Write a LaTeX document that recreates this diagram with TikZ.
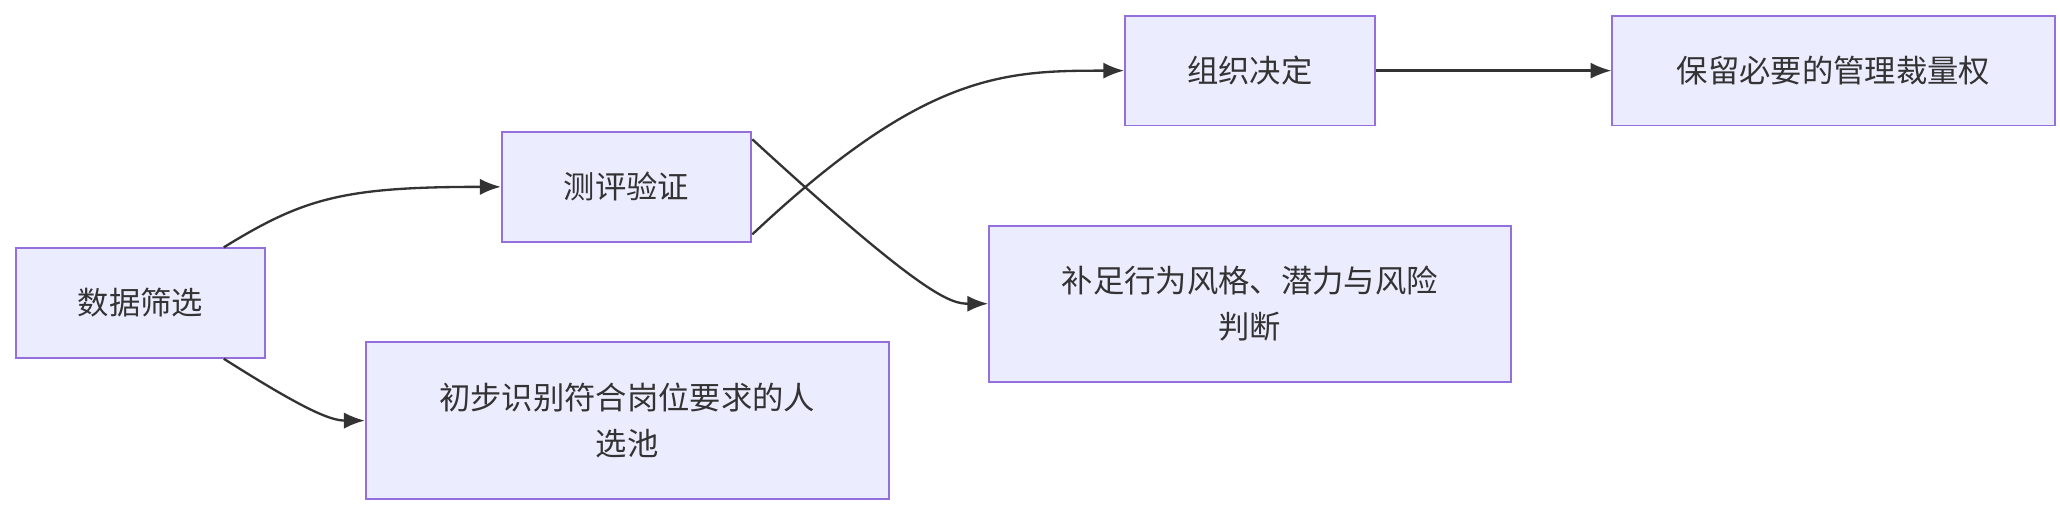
\documentclass[tikz,border=0pt]{standalone}
\usepackage{fontspec}
\newfontfamily\cjk{Noto Sans CJK SC}
\usetikzlibrary{arrows.meta}
\definecolor{nf}{HTML}{ECECFF}
\definecolor{ns}{HTML}{9370DB}
\definecolor{tx}{HTML}{333333}
\begin{document}
\begin{tikzpicture}[x=0.02cm,y=-0.02cm,
  box/.style={draw=ns,fill=nf,line width=0.8pt,text=tx,font=\cjk\fontsize{13.5}{20}\selectfont,align=center,inner sep=0pt},
  con/.style={draw=tx,line width=1pt,-{Latex[length=9pt,width=7pt]}}]
\useasboundingbox (0,0) rectangle (1560,388);
\node[box,minimum width=189*0.02cm,minimum height=83*0.02cm] (a) at (106.5,229.5) {数据筛选};
\node[box,minimum width=189*0.02cm,minimum height=83*0.02cm] (b) at (474.5,141.5) {测评验证};
\node[box,minimum width=189*0.02cm,minimum height=83*0.02cm] (c) at (946.5,53.5) {组织决定};
\node[box,minimum width=335*0.02cm,minimum height=83*0.02cm] (d) at (1388.5,53.5) {保留必要的管理裁量权};
\node[box,minimum width=395*0.02cm,minimum height=118*0.02cm] (e) at (946.5,230) {补足行为风格、潜力与风险\\判断};
\node[box,minimum width=396*0.02cm,minimum height=119*0.02cm] (f) at (475,318.5) {初步识别符合岗位要求的人\\选池};
\draw[con] ([xshift=63*0.02cm]a.north) .. controls (230,150) and (260,141.5) .. (b.west);
\draw[con] ([xshift=63*0.02cm]a.south) .. controls (230,310) and (250,318.5) .. (f.west);
\draw[con] ([yshift=-36*0.02cm]b.east) .. controls (700,55) and (760,53.5) .. (c.west);
\draw[con] ([yshift=36*0.02cm]b.east) .. controls (700,225) and (720,230) .. (e.west);
\draw[con] (c.east) -- (d.west);
\end{tikzpicture}
\end{document}
